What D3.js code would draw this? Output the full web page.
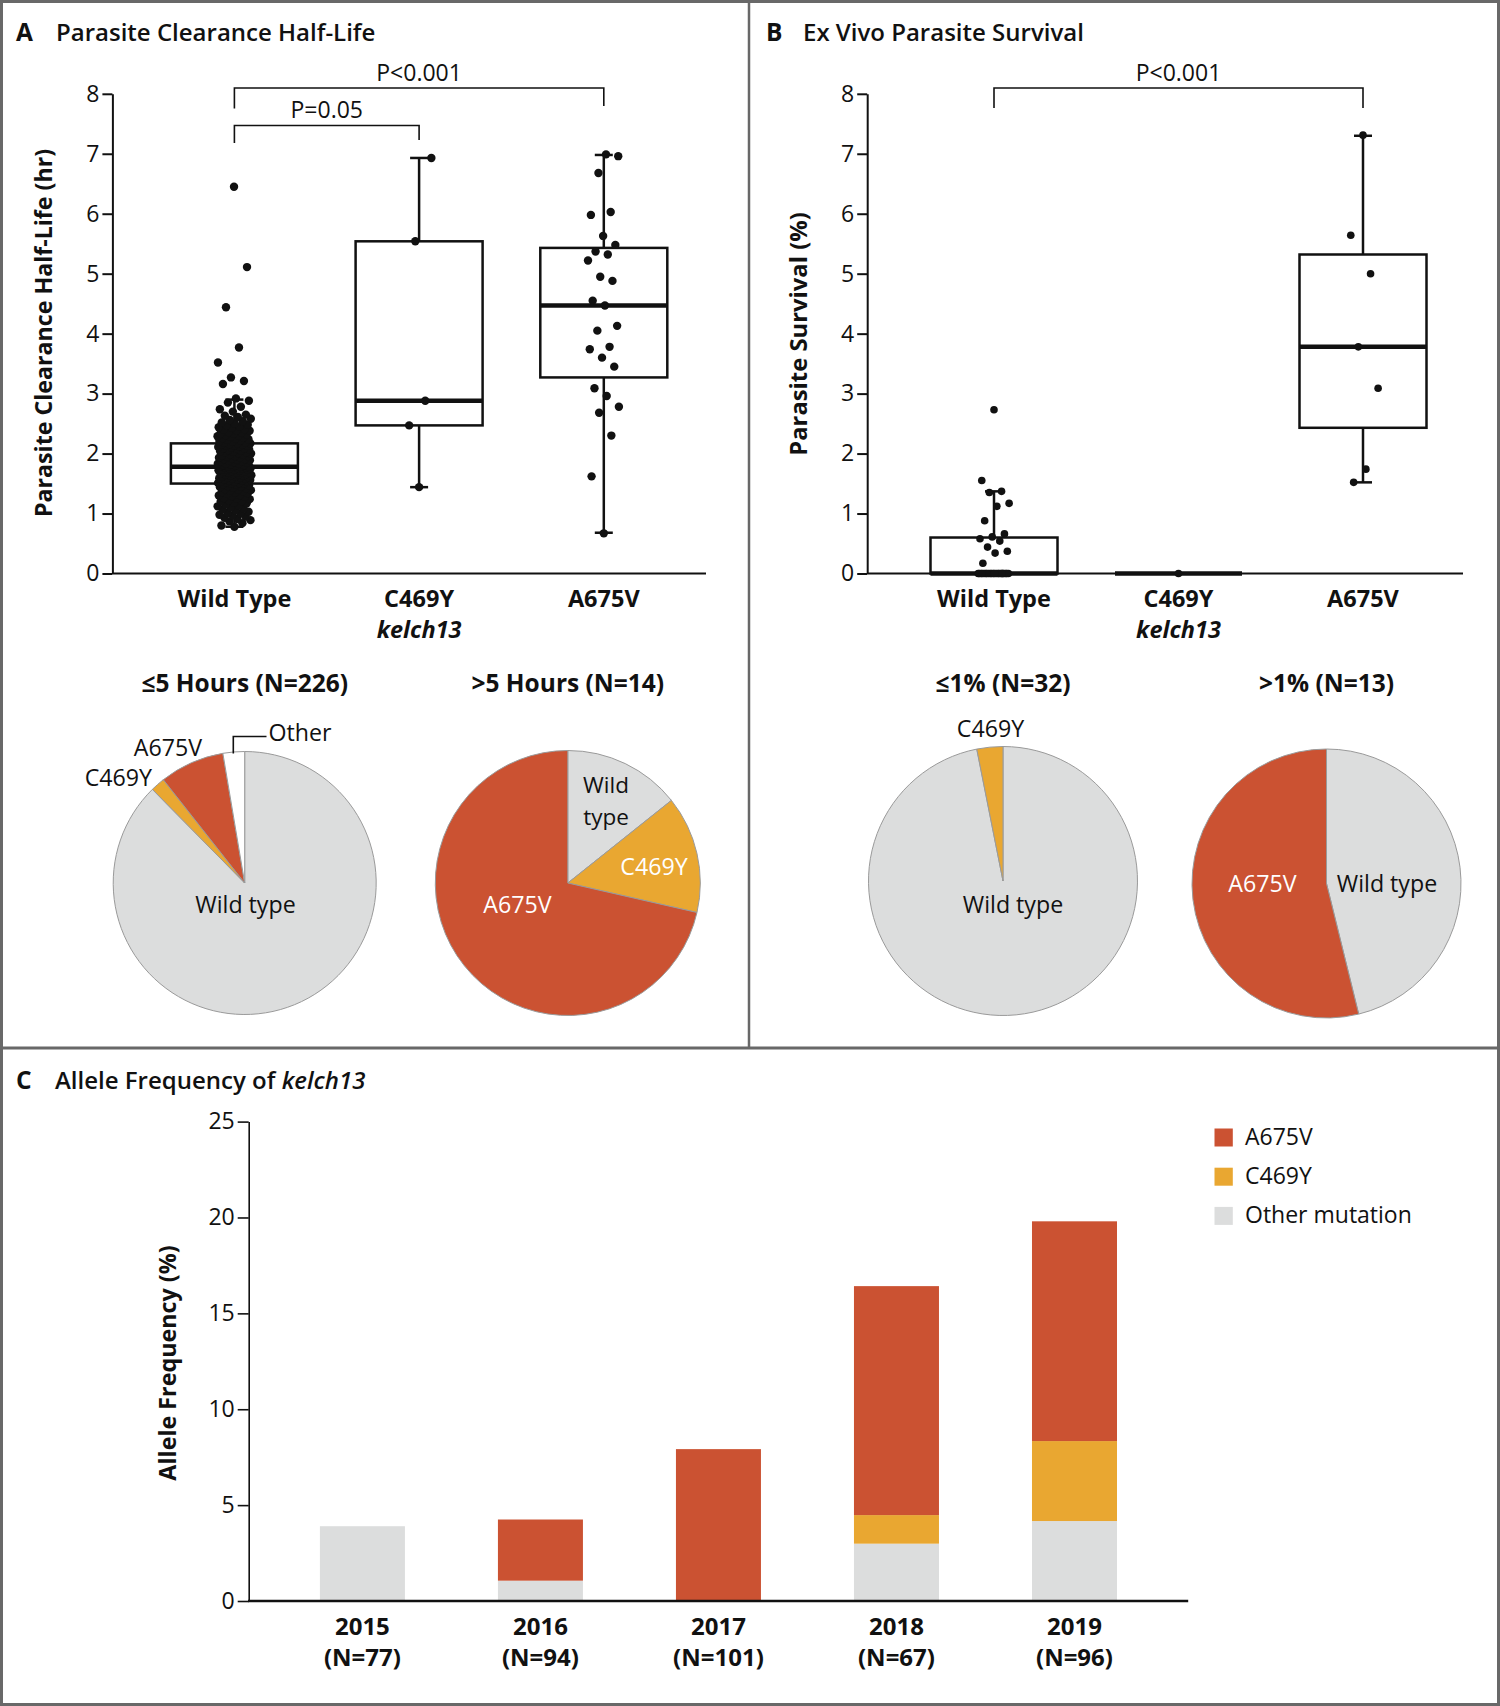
<!DOCTYPE html>
<html><head><meta charset="utf-8">
<script src="https://cdn.jsdelivr.net/npm/d3@7"></script>
<style>
body{margin:0;background:#fff;}
svg text{font-family:"Open Sans",Lato,sans-serif;fill:#111;}
</style></head><body>
<svg id="chart" width="1500" height="1706"></svg>
<script>
// ---------------- DATA ----------------
const boxCategories = ["Wild Type", "C469Y", "A675V"];

// Panel A: parasite clearance half-life (hr)
const halfLifeWT = [
 0.78,0.80,0.84,0.87,0.89,0.91,0.93,0.95,0.97,0.98,1.00,1.01,
 1.03,1.05,1.07,1.08,1.10,1.12,1.13,1.15,1.17,1.18,1.20,1.21,1.22,1.24,1.25,1.26,1.28,1.29,1.30,1.31,1.33,1.34,1.35,1.36,1.37,1.38,1.39,1.40,1.41,1.42,1.43,1.44,1.45,1.46,1.47,1.48,1.49,1.50,
 1.50,1.51,1.51,1.52,1.53,1.53,1.54,1.55,1.55,1.56,1.57,1.57,1.58,1.59,1.59,1.60,1.60,1.61,1.62,1.62,1.63,1.63,1.64,1.65,1.65,1.66,1.66,1.67,1.68,1.68,1.69,1.69,1.70,1.70,1.71,1.72,1.72,1.73,1.73,1.74,1.74,1.75,1.75,1.76,1.76,1.77,1.77,1.78,1.78,1.78,
 1.79,1.79,1.80,1.81,1.81,1.82,1.83,1.84,1.84,1.85,1.86,1.87,1.87,1.88,1.89,1.90,1.91,1.91,1.92,1.93,1.94,1.95,1.96,1.96,1.97,1.98,1.99,2.00,2.01,2.02,2.02,2.03,2.04,2.05,2.06,2.07,2.08,2.09,2.09,2.10,2.11,2.12,2.13,2.13,2.14,2.15,2.15,2.16,2.17,2.17,
 2.18,2.19,2.20,2.21,2.22,2.23,2.24,2.25,2.26,2.27,2.28,2.29,2.30,2.31,2.32,2.33,2.34,2.35,2.36,2.38,2.39,2.40,2.41,2.43,2.44,2.45,2.47,2.48,2.50,2.52,2.54,2.56,2.58,2.61,2.63,2.65,2.70,2.74,2.78,2.85,2.88,2.92,3.16,3.21,3.27,3.52,3.77,4.44,5.11,6.45
];
const halfLifeC469Y = [1.44, 2.47, 2.88, 5.54, 6.93];
const halfLifeA675V = [0.67,1.62,2.30,2.68,2.78,2.96,3.09,3.45,3.60,3.74,3.78,4.05,4.13,4.47,4.55,4.88,4.95,5.22,5.32,5.37,5.48,5.63,5.98,6.03,6.68,6.96,6.99];
const halfLifeQ1 = [1.50, 2.47, 3.27];
const halfLifeMedian = [1.78, 2.88, 4.47];
const halfLifeQ3 = [2.17, 5.54, 5.43];
const halfLifeWhiskerLow = [0.78, 1.44, 0.68];
const halfLifeWhiskerHigh = [2.90, 6.93, 6.98];

// Panel B: ex vivo parasite survival (%)
const survivalWT = [2.73,1.55,1.37,1.35,1.17,1.12,0.88,0.66,0.61,0.58,0.54,0.44,0.37,0.34,0.17,
 0,0,0,0,0,0,0,0,0,0,0,0,0,0,0,0,0,0,0,0,0,0];
const survivalC469Y = [0];
const survivalA675V = [7.31,5.64,5.00,3.78,3.09,1.74,1.52];
const survivalQ1 = [0, 0, 2.43];
const survivalMedian = [0, 0, 3.78];
const survivalQ3 = [0.60, 0, 5.32];
const survivalWhiskerLow = [0, 0, 1.52];
const survivalWhiskerHigh = [1.37, 0, 7.30];

const yTicksBox = [0,1,2,3,4,5,6,7,8];

// Pies
const pieLowHalfLifeCats = ["Wild type", "C469Y", "A675V", "Other"];
const pieLowHalfLifeCounts = [198, 4, 18, 6];
const pieHighHalfLifeCats = ["Wild type", "C469Y", "A675V"];
const pieHighHalfLifeCounts = [2, 2, 10];
const pieLowSurvivalCats = ["Wild type", "C469Y"];
const pieLowSurvivalCounts = [31, 1];
const pieHighSurvivalCats = ["Wild type", "A675V"];
const pieHighSurvivalCounts = [6, 7];

// Panel C: allele frequency (%)
const years = ["2015", "2016", "2017", "2018", "2019"];
const yearN = [77, 94, 101, 67, 96];
const freqOther = [3.90, 1.06, 0, 2.99, 4.17];
const freqC469Y = [0, 0, 0, 1.49, 4.17];
const freqA675V = [0, 3.19, 7.92, 11.94, 11.46];
const freqTicks = [0, 5, 10, 15, 20, 25];
const legendLabels = ["A675V", "C469Y", "Other mutation"];

// ---------------- STYLE ----------------
const RED = "#cb5232", ORANGE = "#e9a731", GRAY = "#dcdddd", INK = "#111";
const FONT = "'Open Sans', Lato, sans-serif";
const colorOf = {"Wild type": GRAY, "C469Y": ORANGE, "A675V": RED, "Other": "#ffffff", "Other mutation": GRAY};

const svg = d3.select("#chart");

// frame
svg.append("rect").attr("x",1.5).attr("y",1.5).attr("width",1497).attr("height",1703)
  .attr("fill","none").attr("stroke","#686868").attr("stroke-width",3);
svg.append("line").attr("x1",0).attr("x2",1500).attr("y1",1048).attr("y2",1048)
  .attr("stroke","#686868").attr("stroke-width",3);
svg.append("line").attr("x1",749).attr("x2",749).attr("y1",0).attr("y2",1048)
  .attr("stroke","#686868").attr("stroke-width",2.5);

function panelTitle(letter, lx, tx, y, parts) {
  svg.append("text").attr("x",lx).attr("y",y).attr("font-size",24.5).attr("font-weight",700).text(letter);
  const t = svg.append("text").attr("x",tx).attr("y",y).attr("font-size",24).attr("font-weight",600);
  parts.forEach(p => t.append("tspan").attr("font-style", p.italic ? "italic" : null).text(p.text));
}
panelTitle("A", 16, 56, 41, [{text:"Parasite Clearance Half-Life"}]);
panelTitle("B", 766, 803, 41, [{text:"Ex Vivo Parasite Survival"}]);
panelTitle("C", 16, 55, 1089, [{text:"Allele Frequency of "}, {text:"kelch13", italic:true}]);

const jitter = j => (((j * 0.6180339887) + 0.5) % 1 - 0.5) * 2;

function boxPanel(o) {
  const g = svg.append("g");
  const y = d3.scaleLinear().domain([0, 8]).range([573.5, 93.8]);
  const x = d3.scalePoint().domain(boxCategories).range(o.centers);
  // y axis
  const ax = g.append("g").attr("transform", `translate(${o.axisX},0)`)
    .call(d3.axisLeft(y).tickValues(yTicksBox).tickFormat(d3.format("d")).tickSize(10).tickSizeOuter(0).tickPadding(3));
  ax.select(".domain").attr("stroke", INK).attr("stroke-width", 2);
  ax.selectAll(".tick line").attr("stroke", INK).attr("stroke-width", 2);
  ax.selectAll(".tick text").attr("font-size", 23).attr("fill", INK).style("font-family", FONT);
  // x axis line
  g.append("line").attr("x1", o.axisX).attr("x2", o.axisEnd).attr("y1", y(0)).attr("y2", y(0))
    .attr("stroke", INK).attr("stroke-width", 2);
  // y title
  g.append("text").attr("transform", `translate(${o.titleX},${o.titleY}) rotate(-90)`)
    .attr("text-anchor","middle").attr("font-size",o.titleSize).attr("font-weight",700).text(o.yTitle);
  // category labels
  boxCategories.forEach(c => {
    g.append("text").attr("x", x(c)).attr("y", 607).attr("text-anchor","middle")
      .attr("font-size",23.5).attr("font-weight",700).text(c);
  });
  g.append("text").attr("x", x("C469Y")).attr("y", 638).attr("text-anchor","middle")
    .attr("font-size",23.5).attr("font-weight",700).attr("font-style","italic").text("kelch13");
  // boxes
  const bw = 127, cap = 18;
  boxCategories.forEach((c, i) => {
    const cx = x(c);
    if (o.whi[i] > o.q3[i]) {
      g.append("line").attr("x1",cx).attr("x2",cx).attr("y1",y(o.q3[i])).attr("y2",y(o.whi[i])).attr("stroke",INK).attr("stroke-width",2.5);
      g.append("line").attr("x1",cx-cap/2).attr("x2",cx+cap/2).attr("y1",y(o.whi[i])).attr("y2",y(o.whi[i])).attr("stroke",INK).attr("stroke-width",2.5);
    }
    if (o.wlo[i] < o.q1[i]) {
      g.append("line").attr("x1",cx).attr("x2",cx).attr("y1",y(o.q1[i])).attr("y2",y(o.wlo[i])).attr("stroke",INK).attr("stroke-width",2.5);
      g.append("line").attr("x1",cx-cap/2).attr("x2",cx+cap/2).attr("y1",y(o.wlo[i])).attr("y2",y(o.wlo[i])).attr("stroke",INK).attr("stroke-width",2.5);
    }
    g.append("rect").attr("x",cx-bw/2).attr("y",y(o.q3[i])).attr("width",bw).attr("height",y(o.q1[i])-y(o.q3[i]))
      .attr("fill","none").attr("stroke",INK).attr("stroke-width",2.5);
    g.append("line").attr("x1",cx-bw/2).attr("x2",cx+bw/2).attr("y1",y(o.med[i])).attr("y2",y(o.med[i]))
      .attr("stroke",INK).attr("stroke-width",4.5);
  });
  // points
  boxCategories.forEach((c, i) => {
    g.append("g").selectAll("circle").data(o.points[i]).join("circle")
      .attr("cx", (d, j) => x(c) + jitter(j) * o.spread[i])
      .attr("cy", d => y(d)).attr("r", o.r).attr("fill", INK);
  });
  // brackets
  o.brackets.forEach(b => {
    const x1 = x(b.from), x2 = x(b.to);
    g.append("path").attr("d", `M${x1},${b.y+b.dl}V${b.y}H${x2}V${b.y+b.dr}`)
      .attr("fill","none").attr("stroke",INK).attr("stroke-width",1.6);
    g.append("text").attr("x",(x1+x2)/2).attr("y",b.y-7.5).attr("text-anchor","middle")
      .attr("font-size",23).text(b.label);
  });
}

boxPanel({
  centers: [234.4, 603.8], axisX: 112.4, axisEnd: 706,
  titleX: 52, titleY: 333, titleSize: 23.2, yTitle: "Parasite Clearance Half-Life (hr)",
  q1: halfLifeQ1, med: halfLifeMedian, q3: halfLifeQ3, wlo: halfLifeWhiskerLow, whi: halfLifeWhiskerHigh,
  points: [halfLifeWT, halfLifeC469Y, halfLifeA675V], spread: [17, 13, 16], r: 4.2,
  brackets: [
    {from:"Wild Type", to:"A675V", y:88, dl:20.5, dr:18, label:"P<0.001"},
    {from:"Wild Type", to:"C469Y", y:125.5, dl:17.5, dr:14.5, label:"P=0.05"}
  ]
});
boxPanel({
  centers: [994, 1363], axisX: 867.2, axisEnd: 1463,
  titleX: 807, titleY: 334, titleSize: 23.8, yTitle: "Parasite Survival (%)",
  q1: survivalQ1, med: survivalMedian, q3: survivalQ3, wlo: survivalWhiskerLow, whi: survivalWhiskerHigh,
  points: [survivalWT, survivalC469Y, survivalA675V], spread: [16, 0, 16], r: 3.8,
  brackets: [
    {from:"Wild Type", to:"A675V", y:88, dl:20, dr:20, label:"P<0.001"}
  ]
});

// ---------------- PIES ----------------
function pieChart(o) {
  const g = svg.append("g").attr("transform", `translate(${o.cx},${o.cy})`);
  const arcs = d3.pie().sort(null).value(d => d.v)(o.cats.map((c, i) => ({c, v: o.counts[i]})));
  const arc = d3.arc().innerRadius(0).outerRadius(o.r);
  g.selectAll("path").data(arcs).join("path").attr("d", arc)
    .attr("fill", d => colorOf[d.data.c]).attr("stroke", "#9a9a9a").attr("stroke-width", 1);
  svg.append("text").attr("x", o.cx).attr("y", 692).attr("text-anchor","middle")
    .attr("font-size",24.5).attr("font-weight",700).text(o.title);
  o.labels.forEach(l => {
    svg.append("text").attr("x", l.x).attr("y", l.y).attr("text-anchor", l.anchor || "middle")
      .attr("font-size", l.size || 23.2).style("fill", l.fill || INK).text(l.text);
  });
}
pieChart({cx:244.7, cy:883, r:131.5, cats:pieLowHalfLifeCats, counts:pieLowHalfLifeCounts, title:"≤5 Hours (N=226)",
  labels:[{text:"Wild type", x:245.5, y:913}, {text:"A675V", x:202, y:756, anchor:"end"},
          {text:"C469Y", x:152, y:786, anchor:"end"}, {text:"Other", x:268.5, y:741, anchor:"start"}]});
svg.append("path").attr("d","M233.3,753.5V736.5H266.5").attr("fill","none").attr("stroke",INK).attr("stroke-width",1.6);
pieChart({cx:567.8, cy:883, r:132.5, cats:pieHighHalfLifeCats, counts:pieHighHalfLifeCounts, title:">5 Hours (N=14)",
  labels:[{text:"Wild", x:606, y:793, size:22.5}, {text:"type", x:606, y:825, size:22.5},
          {text:"C469Y", x:654, y:875, fill:"#fff"}, {text:"A675V", x:517.5, y:913, fill:"#fff"}]});
pieChart({cx:1003, cy:881, r:134.5, cats:pieLowSurvivalCats, counts:pieLowSurvivalCounts, title:"≤1% (N=32)",
  labels:[{text:"C469Y", x:990.5, y:737}, {text:"Wild type", x:1013, y:913}]});
pieChart({cx:1326.5, cy:883.5, r:134.5, cats:pieHighSurvivalCats, counts:pieHighSurvivalCounts, title:">1% (N=13)",
  labels:[{text:"A675V", x:1262.5, y:892, fill:"#fff"}, {text:"Wild type", x:1387, y:892}]});

// ---------------- PANEL C ----------------
(function() {
  const g = svg.append("g");
  const x = d3.scaleBand().domain(years).range([248.7, 1188.2]).paddingInner(0.5225).paddingOuter(0.4);
  const y = d3.scaleLinear().domain([0, 25]).range([1601, 1121.6]);
  const rows = years.map((yr, i) => ({year: yr, other: freqOther[i], c469y: freqC469Y[i], a675v: freqA675V[i]}));
  const keys = ["other", "c469y", "a675v"];
  const keyColor = {other: GRAY, c469y: ORANGE, a675v: RED};
  const series = d3.stack().keys(keys)(rows);
  g.selectAll("g.s").data(series).join("g").attr("fill", s => keyColor[s.key])
    .selectAll("rect").data(s => s.filter(d => d[1] > d[0])).join("rect")
    .attr("x", d => x(d.data.year)).attr("width", x.bandwidth())
    .attr("y", d => y(d[1])).attr("height", d => y(d[0]) - y(d[1]));
  const ax = g.append("g").attr("transform", "translate(248.7,0)")
    .call(d3.axisLeft(y).tickValues(freqTicks).tickSize(11).tickSizeOuter(0).tickPadding(3));
  ax.select(".domain").attr("stroke", INK).attr("stroke-width", 1.6);
  ax.selectAll(".tick line").attr("stroke", INK).attr("stroke-width", 1.6);
  ax.selectAll(".tick text").attr("font-size", 23).attr("fill", INK).style("font-family", FONT);
  g.append("line").attr("x1", 248).attr("x2", 1188.2).attr("y1", y(0)).attr("y2", y(0))
    .attr("stroke", INK).attr("stroke-width", 2.5);
  years.forEach((yr, i) => {
    const cx = x(yr) + x.bandwidth() / 2;
    g.append("text").attr("x", cx).attr("y", 1635).attr("text-anchor","middle")
      .attr("font-size",24).attr("font-weight",700).text(yr);
    g.append("text").attr("x", cx).attr("y", 1666).attr("text-anchor","middle")
      .attr("font-size",24).attr("font-weight",700).text(`(N=${yearN[i]})`);
  });
  g.append("text").attr("transform", "translate(176,1363) rotate(-90)").attr("text-anchor","middle")
    .attr("font-size",23.3).attr("font-weight",700).text("Allele Frequency (%)");
  // legend
  legendLabels.forEach((l, i) => {
    g.append("rect").attr("x", 1214.5).attr("y", 1128.5 + i * 39.2).attr("width", 18.3).attr("height", 18)
      .attr("fill", colorOf[l]);
    g.append("text").attr("x", 1245).attr("y", 1145 + i * 39).attr("font-size", 23).text(l);
  });
})();
</script>
</body></html>
